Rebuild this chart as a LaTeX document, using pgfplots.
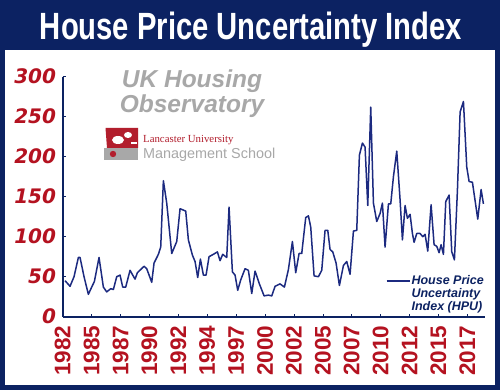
\documentclass[border=0pt]{standalone}
\usepackage{pgfplots}
\pgfplotsset{compat=1.18}
\usepackage{fontspec}
\setmainfont{Liberation Sans}
\newfontfamily\dejavu{DejaVu Sans}
\newfontfamily\libserif{Liberation Serif}
\definecolor{navy}{RGB}{12,34,98}
\definecolor{hpu}{RGB}{28,42,128}
\definecolor{lblred}{RGB}{180,18,32}
\definecolor{logogray}{RGB}{168,168,168}
\definecolor{lancred}{RGB}{178,30,45}
\begin{document}
\begin{tikzpicture}[x=1pt,y=1pt]
\useasboundingbox (0,0) rectangle (500,390);
\fill[navy] (0,0) rectangle (500,390);
\fill[white] (5,5) rectangle (495,340);
\node[anchor=base,inner sep=0pt,text=white] at (251,350)
  {\resizebox{422pt}{27.5pt}{\bfseries House Price Uncertainty Index}};
% logo texts
\node[anchor=base,inner sep=0pt,text=logogray,align=center] at (192,302)
  {\fontsize{24.5}{25}\selectfont\bfseries\itshape UK Housing};
\node[anchor=base,inner sep=0pt,text=logogray] at (192,277)
  {\fontsize{24.5}{25}\selectfont\bfseries\itshape Observatory};
\fill[lancred] (107,242) -- (105.5,262) -- (138,262) -- (138,242) -- cycle;
\fill[white] (118,250) ellipse (6 and 4);
\fill[white] (128,255) ellipse (4 and 3);
\fill[white] (131,246) rectangle (137,248);
\fill[logogray] (104,230) rectangle (138,242);
\fill[lancred] (113,236) circle (3.2);
\node[anchor=base west,inner sep=0pt,text=lancred] at (143,247)
  {\libserif\fontsize{10.8}{12}\selectfont Lancaster University};
\node[anchor=base west,inner sep=0pt,text=logogray] at (143,231)
  {\fontsize{14.4}{16}\selectfont Management School};
\begin{axis}[
  at={(62.7pt,73.3pt)}, anchor=south west,
  scale only axis, width=422.3pt, height=240pt,
  xmin=0, xmax=146.1, ymin=0, ymax=300,
  axis x line=bottom, axis y line=left,
  axis line style={navy, line width=2.2pt, -},
  clip=false,
  tick align=inside, major tick length=3pt,
  tick style={navy, line width=0.6pt},
  xtick={0,10,...,140},
  xticklabels={1982,1985,1987,1990,1992,1994,1997,2000,2002,2005,2007,2010,2012,2015,2017},
  ytick={0,50,...,300},
  yticklabels={0,50,100,150,200,250,300},
  xticklabel style={rotate=90, anchor=east, inner sep=0pt, text=lblred,
    font=\fontsize{22.5}{24}\selectfont\bfseries},
  xticklabel shift=9pt,
  yticklabel style={anchor=east, inner sep=0pt, xshift=-6.5pt, text=lblred,
    font=\dejavu\fontsize{20}{24}\selectfont\bfseries\itshape},
  legend style={at={(1,0.015)}, anchor=south east, draw=none, fill=none,
    inner sep=0pt, font=\fontsize{12.5}{13}\selectfont\bfseries\itshape,
    text=navy, nodes={inner sep=1pt}, cells={align=left}},
  legend cell align=left,
  legend image code/.code={\draw[#1, line width=1.8pt] (0pt,13pt) -- (23pt,13pt); \path (0pt,-13pt);},
]
\addplot[hpu, line width=1.5pt, line join=round] coordinates {
(0.81,45) (2.54,38) (3.92,50) (5.42,74) (6.00,74) (7.38,50) (8.88,28) (10.03,37) (10.96,44) (12.57,74) (14.07,37) (15.22,31) (16.61,35) (17.53,34) (18.69,50) (19.84,52) (20.76,37) (21.80,37) (23.30,58) (24.22,52) (25.03,47) (25.84,55) (28.14,63) (29.07,60) (30.80,43) (31.60,67) (33.10,78) (33.91,87) (34.83,170) (35.99,142) (37.72,79) (39.45,94) (40.60,135) (42.56,132) (43.48,96) (44.87,77) (45.79,69) (46.71,49) (47.64,72) (48.67,52) (49.60,52) (50.63,75) (52.13,78) (53.52,81) (54.44,70) (55.36,78) (56.75,74) (57.55,137) (58.71,56) (59.63,52) (60.55,33) (61.59,46) (63.09,60) (64.24,58) (65.40,29) (66.55,57) (68.05,41) (69.67,26) (71.16,27) (72.32,26) (73.47,38) (75.20,41) (76.70,37) (78.09,59) (79.47,94) (80.62,55) (81.78,79) (82.70,79) (84.08,124) (85.01,126) (85.81,112) (86.97,51) (88.47,50) (89.62,58) (90.77,108) (91.70,108) (92.50,84) (93.43,81) (94.58,67) (95.73,39) (97.12,64) (98.27,69) (99.42,53) (100.58,107) (101.73,108) (102.65,202) (103.69,217) (104.61,212) (105.54,139) (106.57,262) (107.50,142) (108.65,119) (109.80,129) (110.61,142) (111.53,87) (112.69,141) (113.49,141) (114.42,175) (115.57,207) (116.72,146) (117.53,96) (118.45,139) (119.26,123) (120.18,128) (120.99,104) (121.57,93) (122.49,104) (123.64,104) (124.57,100) (125.37,103) (126.30,82) (127.45,140) (128.49,90) (129.41,88) (130.22,80) (130.91,90) (131.72,78) (132.53,144) (133.68,152) (134.60,81) (135.52,71) (136.56,158) (137.49,256) (138.64,269) (139.79,187) (140.60,169) (141.75,168) (143.60,122) (144.75,159) (145.56,141)
};
\addlegendentry{House Price\\Uncertainty\\Index (HPU)}
\end{axis}
\end{tikzpicture}
\end{document}
